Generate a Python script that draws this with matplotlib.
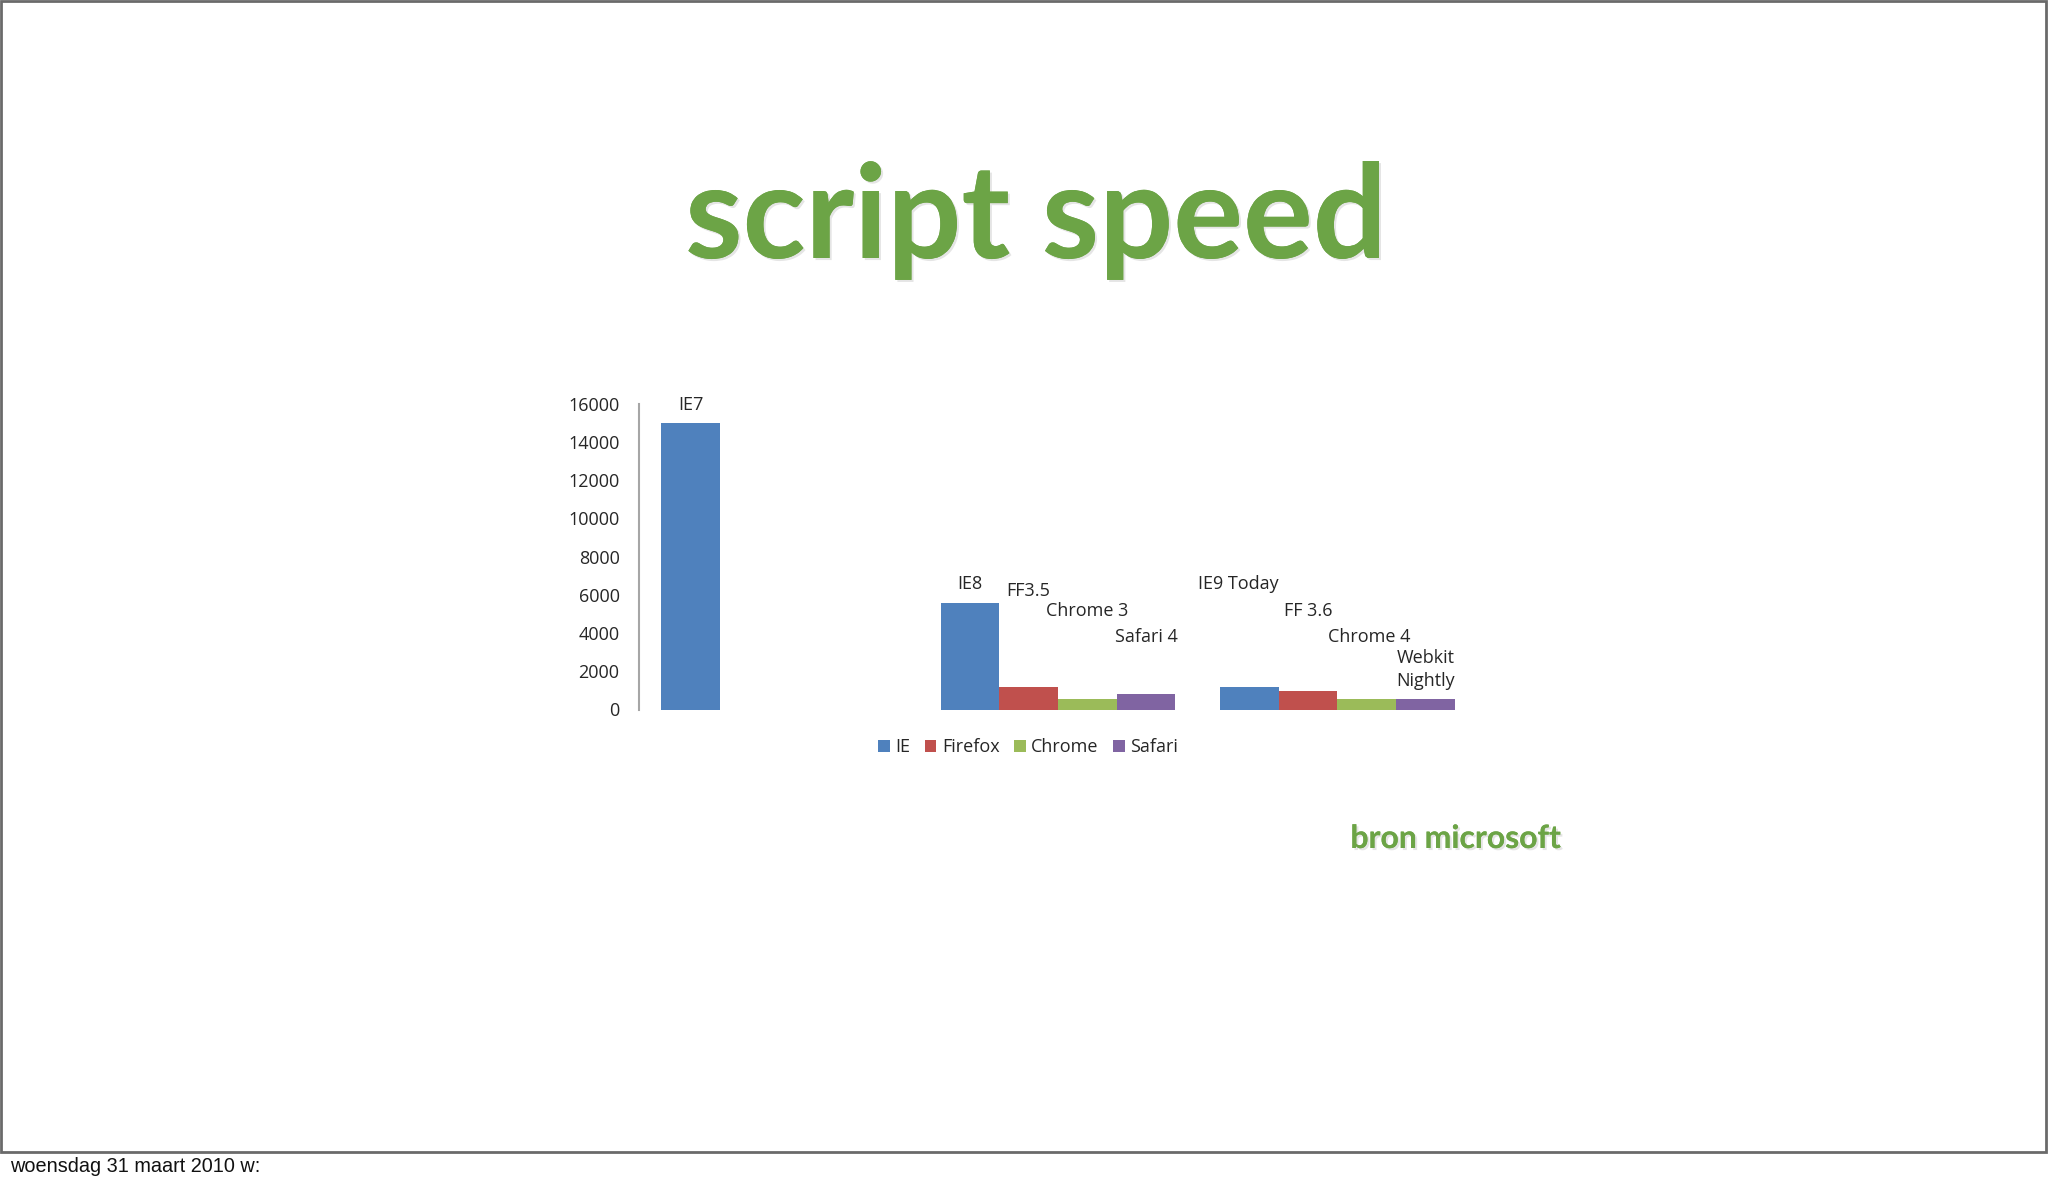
import matplotlib
matplotlib.use("Agg")
import matplotlib.pyplot as plt
import matplotlib.patheffects as pe
import numpy as np

# ---- data ----
categories = ["IE7 era", "2009", "2010"]
series_names = ["IE", "Firefox", "Chrome", "Safari"]
ie_values = [14980, 5570, 1180]
firefox_values = [0, 1180, 970]
chrome_values = [0, 550, 550]
safari_values = [0, 810, 550]
ie_labels = ["IE7", "IE8", "IE9 Today"]
firefox_labels = ["", "FF3.5", "FF 3.6"]
chrome_labels = ["", "Chrome 3", "Chrome 4"]
safari_labels = ["", "Safari 4", "Webkit\nNightly"]
y_ticks = [0, 2000, 4000, 6000, 8000, 10000, 12000, 14000, 16000]

# ---- layout / style ----
colors = ["#4f81bd", "#c0504d", "#9bbb59", "#8064a2"]
label_y = [[15922, 6536, 6536], [None, 6170, 5176], [None, 5176, 3765], [None, 3765, 2092]]
label_dx = [[0, 0, -0.04], [0, 0, 0], [0, 0, 0.01], [0, 0, 0]]
green = "#6ca446"
W, H = 2048, 1184

fig = plt.figure(figsize=(W / 100, H / 100), dpi=100)
fig.patch.set_facecolor("white")

# slide frame
frame = plt.Rectangle((1 / W, 1 - 1152 / H), 2045 / W, 1151 / H, transform=fig.transFigure,
                      fill=False, edgecolor="#6a6a6a", linewidth=2)
fig.add_artist(frame)

ax = fig.add_axes([639 / W, 1 - 709.5 / H, 838 / W, 306 / H])
all_values = [ie_values, firefox_values, chrome_values, safari_values]
all_labels = [ie_labels, firefox_labels, chrome_labels, safari_labels]
x = np.arange(len(categories))
bw = 0.21
cfont = "Open Sans"
tcol = "#262626"
for i, (vals, name, col) in enumerate(zip(all_values, series_names, colors)):
    xs = x + (i - 1.5) * bw
    ax.bar(xs, vals, width=bw, color=col, label=name, edgecolor="none")
    for j, lab in enumerate(all_labels[i]):
        if lab:
            ax.text(xs[j] + label_dx[i][j], label_y[i][j], lab, ha="center", va="center",
                    fontsize=13, family=cfont, color=tcol, linespacing=1.35)

ax.set_xlim(-0.5, 2.5)
ax.set_ylim(0, 16000)
ax.set_yticks(y_ticks)
ax.set_yticklabels([str(t) for t in y_ticks], fontsize=13, family=cfont, color=tcol)
ax.set_xticks([])
ax.tick_params(axis="y", length=0, pad=14)
for s in ["top", "right", "bottom"]:
    ax.spines[s].set_visible(False)
ax.spines["left"].set_color("#a6a6a6")
ax.spines["left"].set_linewidth(1.5)
ax.set_facecolor("none")

leg = fig.legend(loc="center", bbox_to_anchor=(1028 / W, 1 - 747 / H), ncol=4, frameon=False,
                 handlelength=0.65, handleheight=0.65, handletextpad=0.3, columnspacing=0.8,
                 prop={"family": cfont, "size": 13})
for t in leg.get_texts():
    t.set_color(tcol)

shadow = [pe.withSimplePatchShadow(offset=(1.5, -1.5), shadow_rgbFace="#999999", alpha=0.25), pe.Normal()]
fig.text(1036 / W, 1 - 258 / H, "script speed", ha="center", va="baseline", fontsize=94,
         family="Lato", fontweight="bold", color=green, path_effects=shadow)
fig.text(1456 / W, 1 - 848 / H, "bron microsoft", ha="center", va="baseline", fontsize=23,
         family="Lato", fontweight="bold", color=green, path_effects=shadow)
fig.text(10 / W, 1 - 1166 / H, "woensdag 31 maart 2010 w:", ha="left", va="center", fontsize=14.3,
         family="Liberation Sans", color="#111111")

fig.savefig("out.png", dpi=100, facecolor="white")
